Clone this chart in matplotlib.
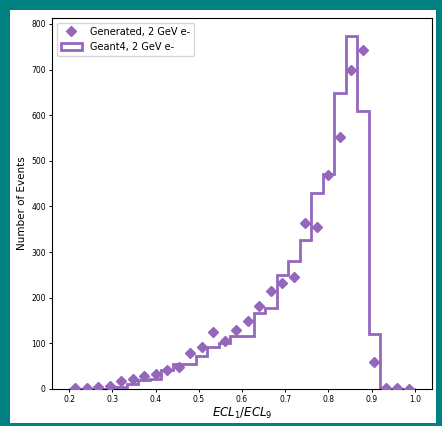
import matplotlib
matplotlib.use("Agg")
import matplotlib.pyplot as plt
import numpy as np
from matplotlib.patches import Rectangle

# 30 bins between 0.2 and 1.0
bin_edges = np.linspace(0.2, 1.0, 31)
bin_centers = 0.5 * (bin_edges[:-1] + bin_edges[1:])

geant4_counts = [0, 0, 0, 1, 5, 11, 20, 23, 42, 54,
                 54, 73, 91, 101, 117, 117, 167, 178, 250, 280,
                 326, 430, 472, 648, 773, 610, 121, 0, 0, 0]

generated_counts = [2, 2, 4, 6, 17, 21, 29, 33, 42, 48,
                    79, 91, 126, 106, 129, 150, 181, 214, 232, 245,
                    364, 354, 468, 553, 698, 742, 60, 2, 2, 1]

purple = '#9467bd'

fig = plt.figure(figsize=(4.42, 4.26), dpi=100, facecolor='#008080')
# white inner panel (teal frame around it)
fig.patches.append(Rectangle((10 / 442, 3 / 426), 426 / 442, 413 / 426,
                             transform=fig.transFigure, facecolor='white',
                             edgecolor='none', zorder=-10))

ax = fig.add_axes([52 / 442, 37 / 426, 380 / 442, 371 / 426])

ax.plot(bin_centers, generated_counts, linestyle='none', marker='D',
        markersize=5.3, color=purple, label='Generated, 2 GeV e-', zorder=3)
ax.hist(bin_centers, bins=bin_edges, weights=geant4_counts, histtype='step',
        color=purple, linewidth=2, label='Geant4, 2 GeV e-')

ax.set_xlim(0.16, 1.04)
ax.set_ylim(0, 813)
ax.set_xticks(np.arange(0.2, 1.01, 0.1))
ax.set_yticks(np.arange(0, 801, 100))
ax.tick_params(labelsize=5.5, length=2.5, width=0.7, pad=2)

ax.set_xlabel(r'$ECL_1/ECL_9$', fontsize=8.5, labelpad=1)
ax.set_ylabel('Number of Events', fontsize=7.5, labelpad=3)
ax.legend(loc='upper left', fontsize=7, handlelength=2.2)

fig.savefig('out.png', dpi=100, facecolor=fig.get_facecolor())
